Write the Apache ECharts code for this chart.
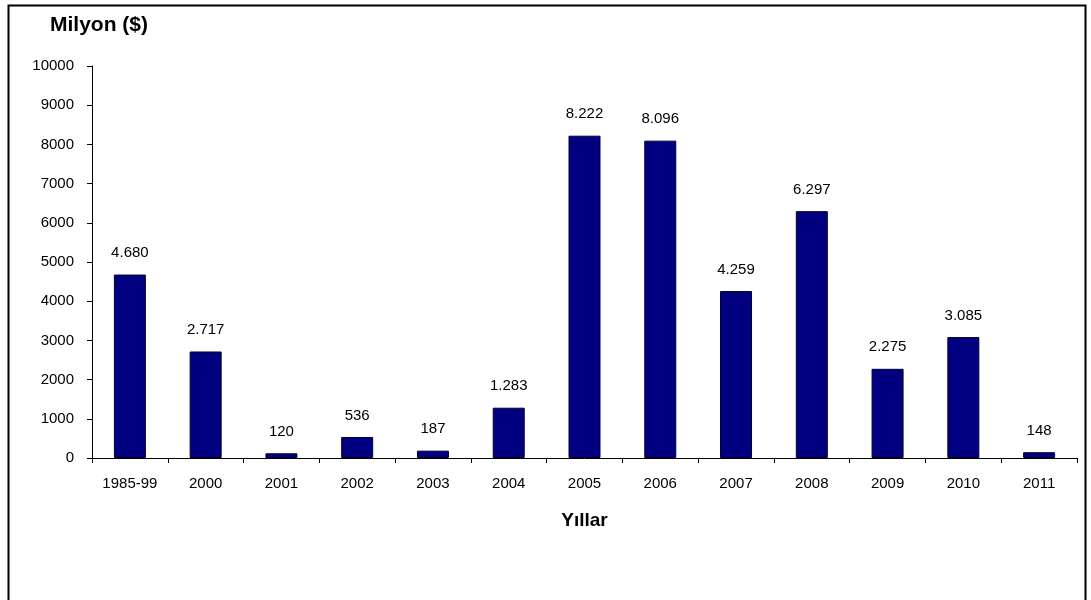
<!DOCTYPE html>
<html>
<head>
<meta charset="utf-8">
<script src="https://cdn.jsdelivr.net/npm/echarts@6/dist/echarts.min.js"></script>
<style>
  html, body { margin: 0; padding: 0; background: #fff; }
  #chart { width: 1091px; height: 600px; }
</style>
</head>
<body>
<div id="chart"></div>
<script>
const years = ['1985-99', '2000', '2001', '2002', '2003', '2004', '2005', '2006', '2007', '2008', '2009', '2010', '2011'];
const values = [4680, 2717, 120, 536, 187, 1283, 8222, 8096, 4259, 6297, 2275, 3085, 148];

const chart = echarts.init(document.getElementById('chart'));
const font = 'Liberation Sans, Arial, sans-serif';

// 4680 -> 4.680
const fmt = (v) => String(v).replace(/\B(?=(\d{3})+(?!\d))/g, '.');

chart.setOption({
  backgroundColor: '#fff',
  animation: false,
  graphic: [
    {
      type: 'rect',
      shape: { x: 8.5, y: 5.5, width: 1077, height: 600 },
      style: { fill: 'none', stroke: '#000', lineWidth: 2 },
      silent: true,
    },
    {
      type: 'text',
      left: 50,
      top: 15,
      style: { text: 'Milyon ($)', font: 'bold 21px ' + font, fill: '#000' },
    },
  ],
  grid: { left: 92, right: 14, top: 66, bottom: 142 },
  xAxis: {
    type: 'category',
    data: years,
    name: 'Yıllar',
    nameLocation: 'middle',
    nameGap: 53,
    nameTextStyle: { fontFamily: font, fontWeight: 'bold', fontSize: 19, color: '#000' },
    axisLine: { lineStyle: { color: '#000', width: 1 } },
    axisTick: { show: true, length: 5, lineStyle: { color: '#000' } },
    axisLabel: { color: '#000', fontFamily: font, fontSize: 15, margin: 18 },
  },
  yAxis: {
    type: 'value',
    min: 0,
    max: 10000,
    interval: 1000,
    axisLine: { show: true, lineStyle: { color: '#000', width: 1 } },
    axisTick: { show: true, length: 5, lineStyle: { color: '#000' } },
    axisLabel: { color: '#000', fontFamily: font, fontSize: 15, margin: 18, formatter: (v) => String(v) },
    splitLine: { show: false },
  },
  series: [
    {
      type: 'bar',
      data: values,
      barWidth: 32,
      itemStyle: { color: '#000080', borderColor: '#000030', borderWidth: 1 },
      label: {
        show: true,
        position: 'top',
        distance: 14,
        color: '#000',
        fontFamily: font,
        fontSize: 15,
        formatter: (p) => fmt(p.value),
      },
    },
  ],
});
</script>
</body>
</html>
